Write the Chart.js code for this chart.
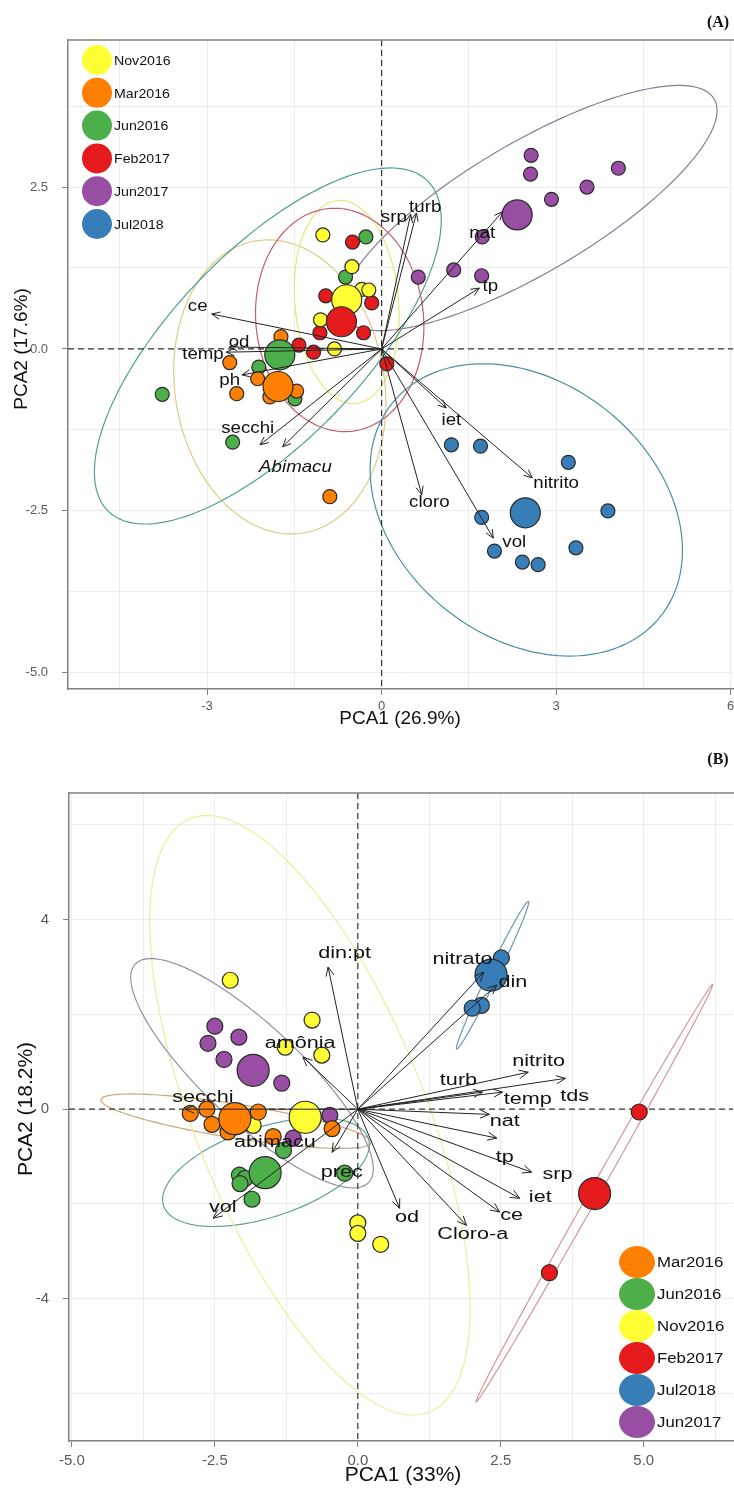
<!DOCTYPE html>
<html>

<head>
    <meta charset="utf-8" />
    <style>
        body { margin: 0; background: #fff; }
        canvas { position: absolute; left: 0; }
    </style>
</head>

<body>
    <canvas id="pcaA" width="734" height="740" style="top:0px"></canvas>
    <canvas id="pcaB" width="734" height="748" style="top:740px"></canvas>

    <script src="https://cdn.jsdelivr.net/npm/chart.js@4.4.1/dist/chart.umd.min.js"></script>

    <script>
        // ---------- panel A data ----------
        const groupsA = ['Nov2016', 'Mar2016', 'Jun2016', 'Feb2017', 'Jun2017', 'Jul2018'];
        const aNov = [[-1.01, 1.76], [-0.51, 1.27], [-0.34, 0.92], [-0.22, 0.91], [-1.05, 0.45], [-0.81, 0.0]];
        const aMar = [[-1.73, 0.19], [-2.61, -0.21], [-2.13, -0.46], [-2.49, -0.69], [-1.92, -0.74], [-1.46, -0.65], [-0.89, -2.28]];
        const aJun16 = [[-0.27, 1.73], [-0.62, 1.11], [-2.11, -0.28], [-1.49, -0.77], [-3.77, -0.7], [-2.56, -1.44]];
        const aFeb = [[-0.5, 1.65], [-0.96, 0.82], [-0.17, 0.71], [-1.06, 0.25], [-0.31, 0.25], [-1.42, 0.06], [-1.17, -0.05], [0.09, -0.23]];
        const aJun17 = [[2.57, 2.99], [2.56, 2.7], [2.92, 2.31], [3.53, 2.5], [4.07, 2.79], [1.73, 1.73], [1.24, 1.22], [0.63, 1.11], [1.72, 1.13]];
        const aJul = [[1.2, -1.48], [1.7, -1.5], [3.21, -1.75], [3.89, -2.5], [1.72, -2.6], [1.94, -3.12], [3.34, -3.07], [2.42, -3.29], [2.69, -3.33]];
        const aCentX = [-0.6, -1.78, -1.75, -0.69, 2.33, 2.47];
        const aCentY = [0.76, -0.58, -0.09, 0.42, 2.07, -2.53];
        // ellipses: centre x, centre y, then two conjugate semi-diameters (ux, uy, vx, vy)
        const aEllipses = [
            [-0.6, 0.725, -0.153, 1.568, 0.888, 0.070],
            [-1.75, -0.586, 0.397, -2.256, -1.779, -0.253],
            [-1.955, 0.046, 2.741, 2.553, 1.172, -1.019],
            [-0.72, 0.448, 0.201, -1.719, -1.433, -0.135],
            [2.539, 2.176, 3.177, 1.684, 0.566, -0.864],
            [2.487, -2.485, 2.32, -1.63, -1.35, -1.56]
        ];
        const aArrowNames = ['ce', 'od', 'temp', 'ph', 'secchi', 'Abimacu', 'srp', 'turb', 'nat', 'tp', 'iet', 'nitrito', 'cloro', 'vol'];
        const aArrowX = [-2.92, -2.62, -2.67, -2.4, -2.09, -1.7, 0.5, 0.6, 2.08, 1.68, 1.11, 2.59, 0.69, 1.92];
        const aArrowY = [0.54, 0.03, -0.05, -0.4, -1.48, -1.51, 2.08, 2.1, 2.12, 0.94, -0.91, -1.99, -2.25, -2.92];
        const aLabelX = [-3.16, -2.45, -3.07, -2.61, -2.30, -1.48, 0.21, 0.75, 1.73, 1.87, 1.20, 3.0, 0.82, 2.28];
        const aLabelY = [0.66, 0.11, -0.09, -0.48, -1.22, -1.82, 2.04, 2.19, 1.79, 0.96, -1.10, -2.08, -2.36, -2.99];
        const aGridX = [-4.5, -3, -1.5, 0, 1.5, 3, 4.5, 6];
        const aGridY = [-5, -3.75, -2.5, -1.25, 0, 1.25, 2.5, 3.75];
        const aTickX = [-3, 0, 3, 6];
        const aTickXLabels = ['-3', '0', '3', '6'];
        const aTickY = [-5, -2.5, 0, 2.5];
        const aTickYLabels = ['-5.0', '-2.5', '0.0', '2.5'];

        // ---------- panel B data ----------
        const groupsB = ['Mar2016', 'Jun2016', 'Nov2016', 'Feb2017', 'Jul2018', 'Jun2017'];
        const bMar = [[-2.93, -0.09], [-2.64, 0.0], [-1.74, -0.06], [-2.55, -0.32], [-2.27, -0.48], [-0.45, -0.41], [-1.48, -0.58]];
        const bJun16 = [[-2.07, -1.39], [-1.97, -1.46], [-2.06, -1.57], [-1.85, -1.9], [-1.3, -0.87], [-0.23, -1.35]];
        const bNov = [[-2.23, 2.72], [-0.8, 1.88], [-0.63, 1.14], [-1.27, 1.31], [0, -2.4], [0, -2.62], [0.4, -2.85], [-1.83, -0.34]];
        const bFeb = [[4.92, -0.06], [3.35, -3.45]];
        const bJul = [[2.51, 3.19], [2.16, 2.19], [2.0, 2.13]];
        const bJun17 = [[-2.5, 1.75], [-2.08, 1.52], [-2.62, 1.39], [-2.34, 1.05], [-1.33, 0.55], [-0.49, -0.13], [-1.13, -0.61]];
        const bCentX = [-2.15, -1.62, -0.92, 4.14, 2.33, -1.83];
        const bCentY = [-0.2, -1.34, -0.17, -1.78, 2.83, 0.82];
        const bEllipses = [
            [-2.129, -0.253, 2.361, -0.452, -0.046, -0.354],
            [-1.606, -1.329, 1.792, 0.705, 0.243, -0.903],
            [-0.838, -0.127, 2.092, -6.259, -1.861, -0.909],
            [4.136, -1.772, 2.068, 4.403, 0.076, -0.052],
            [2.356, 2.827, 0.627, 1.555, 0.078, -0.046],
            [-1.85, 0.759, 2.042, -2.302, -0.571, -0.741]
        ];
        const bArrowNames = ['din:pt', 'amônia', 'nitrato', 'din', 'nitrito', 'tds', 'turb', 'temp', 'nat', 'tp', 'srp', 'iet', 'ce', 'Cloro-a', 'od', 'prec', 'vol', 'secchi'];
        const bArrowX = [-0.52, -0.96, 2.2, 2.43, 2.98, 3.63, 2.18, 2.53, 2.30, 2.43, 3.04, 2.83, 2.48, 1.90, 0.73, -0.45, -2.53, -3.02];
        const bArrowY = [3.0, 1.10, 2.89, 2.62, 0.78, 0.65, 0.36, 0.36, -0.11, -0.61, -1.33, -1.88, -2.17, -2.45, -2.09, -0.91, -2.30, 0.0];
        const bLabelNames = ['din:pt', 'amônia', 'nitrato', 'din', 'nitrito', 'tds', 'turb', 'temp', 'nat', 'tp', 'srp', 'iet', 'ce', 'Cloro-a', 'od', 'prec', 'vol', 'secchi', 'abimacu'];
        const bLabelX = [-0.23, -1.01, 1.83, 2.71, 3.16, 3.79, 1.76, 2.97, 2.57, 2.57, 3.49, 3.19, 2.69, 2.01, 0.86, -0.28, -2.36, -2.71, -1.45];
        const bLabelY = [3.29, 1.39, 3.16, 2.66, 1.01, 0.27, 0.61, 0.21, -0.27, -1.03, -1.39, -1.86, -2.24, -2.64, -2.28, -1.33, -2.07, 0.25, -0.70];
        const bGridX = [-5, -3.75, -2.5, -1.25, 0, 1.25, 2.5, 3.75, 5, 6.25];
        const bGridY = [-6, -4, -2, 0, 2, 4, 6];
        const bTickX = [-5, -2.5, 0, 2.5, 5];
        const bTickXLabels = ['-5.0', '-2.5', '0.0', '2.5', '5.0'];
        const bTickY = [-4, 0, 4];
        const bTickYLabels = ['-4', '0', '4'];

        // ---------- styles ----------
        const fillColor = {
            Nov2016: '#ffff33', Mar2016: '#ff7f00', Jun2016: '#4daf4a',
            Feb2017: '#e41a1c', Jun2017: '#984ea3', Jul2018: '#377eb8'
        };
        const ringA = {
            Nov2016: '#ece47a', Mar2016: '#dccb80', Jun2016: '#4f9f94',
            Feb2017: '#c0606e', Jun2017: '#8a7d98', Jul2018: '#4b8ea8'
        };
        const ringB = {
            Nov2016: '#efec9a', Mar2016: '#c9a874', Jun2016: '#5ea494',
            Feb2017: '#d49898', Jun2017: '#9a8aa6', Jul2018: '#6a98b0'
        };
        const FONT = '"Liberation Sans", Arial, sans-serif';

        function drawStretched(ctx, txt, x, y, font, sx, align) {
            ctx.save();
            ctx.translate(x, y);
            ctx.scale(sx, 1);
            ctx.font = font;
            ctx.textAlign = align || 'center';
            ctx.textBaseline = 'middle';
            ctx.fillText(txt, 0, 0);
            ctx.restore();
        }

        function drawArrow(ctx, x0, y0, x1, y1, head) {
            const a = Math.atan2(y1 - y0, x1 - x0);
            ctx.beginPath();
            ctx.moveTo(x0, y0);
            ctx.lineTo(x1, y1);
            ctx.moveTo(x1 - head * Math.cos(a - 0.42), y1 - head * Math.sin(a - 0.42));
            ctx.lineTo(x1, y1);
            ctx.lineTo(x1 - head * Math.cos(a + 0.42), y1 - head * Math.sin(a + 0.42));
            ctx.stroke();
        }

        function sameValue(list, v) {
            return list.findIndex(t => Math.abs(t - v) < 1e-9);
        }

        function makeBiplot(p) {
            return {
                id: 'biplot',
                beforeDatasetsDraw(chart) {
                    const { ctx, chartArea: ca, scales: { x, y } } = chart;
                    ctx.save();
                    ctx.beginPath();
                    ctx.rect(ca.left, ca.top, ca.right - ca.left, ca.bottom - ca.top);
                    ctx.clip();
                    ctx.lineWidth = 1.2;
                    p.ellipses.forEach((e, i) => {
                        ctx.strokeStyle = p.ring[p.groups[i]];
                        ctx.beginPath();
                        for (let k = 0; k <= 180; k++) {
                            const t = k / 180 * Math.PI * 2;
                            const px = x.getPixelForValue(e[0] + e[2] * Math.cos(t) + e[4] * Math.sin(t));
                            const py = y.getPixelForValue(e[1] + e[3] * Math.cos(t) + e[5] * Math.sin(t));
                            if (k === 0) ctx.moveTo(px, py); else ctx.lineTo(px, py);
                        }
                        ctx.closePath();
                        ctx.stroke();
                    });
                    ctx.setLineDash([6, 4]);
                    ctx.strokeStyle = '#333';
                    ctx.lineWidth = 1.2;
                    const x0 = x.getPixelForValue(0), y0 = y.getPixelForValue(0);
                    ctx.beginPath();
                    ctx.moveTo(x0, ca.top); ctx.lineTo(x0, ca.bottom);
                    ctx.moveTo(ca.left, y0); ctx.lineTo(ca.right, y0);
                    ctx.stroke();
                    ctx.restore();

                    // top frame line
                    ctx.save();
                    ctx.strokeStyle = '#808080';
                    ctx.lineWidth = 1.5;
                    ctx.beginPath();
                    ctx.moveTo(ca.left, ca.top);
                    ctx.lineTo(chart.width, ca.top);
                    ctx.stroke();
                    ctx.restore();
                },
                afterDatasetsDraw(chart) {
                    const { ctx, chartArea: ca, scales: { x, y } } = chart;
                    const x0 = x.getPixelForValue(0), y0 = y.getPixelForValue(0);
                    ctx.save();
                    ctx.strokeStyle = '#222';
                    ctx.lineWidth = 1;
                    p.arrowX.forEach((ax, i) => {
                        drawArrow(ctx, x0, y0, x.getPixelForValue(ax), y.getPixelForValue(p.arrowY[i]), p.head);
                    });
                    ctx.fillStyle = '#111';
                    p.labelNames.forEach((n, i) => {
                        const font = (n === 'Abimacu' ? 'italic ' : '') + p.labelSize + 'px ' + FONT;
                        drawStretched(ctx, n, x.getPixelForValue(p.labelX[i]), y.getPixelForValue(p.labelY[i]), font, p.labelStretch);
                    });

                    // legend
                    p.groups.forEach((g, i) => {
                        const cy = p.legendY + i * p.legendGap;
                        ctx.fillStyle = fillColor[g];
                        ctx.beginPath();
                        ctx.ellipse(p.legendX, cy, p.legendRx, p.legendRy, 0, 0, Math.PI * 2);
                        ctx.fill();
                        ctx.fillStyle = '#111';
                        drawStretched(ctx, g, p.legendX + p.legendRx + 2, cy + 1, p.legendSize + 'px ' + FONT, p.legendStretch, 'left');
                    });

                    // axis titles and panel tag
                    ctx.fillStyle = '#111';
                    ctx.font = p.titleSize + 'px ' + FONT;
                    ctx.textAlign = 'center';
                    ctx.textBaseline = 'middle';
                    ctx.fillText(p.xTitle, p.xTitlePos[0], p.xTitlePos[1]);
                    ctx.save();
                    ctx.translate(p.yTitlePos[0], p.yTitlePos[1]);
                    ctx.rotate(-Math.PI / 2);
                    ctx.fillText(p.yTitle, 0, 0);
                    ctx.restore();
                    ctx.font = 'bold 16px "Liberation Serif", "Times New Roman", serif';
                    ctx.fillText(p.tag, p.tagPos[0], p.tagPos[1]);
                    ctx.restore();
                }
            };
        }

        function makeChart(id, p) {
            const datasets = p.points.map((pts, i) => ({
                label: p.groups[i],
                data: pts.map(([px, py]) => ({ x: px, y: py })),
                backgroundColor: fillColor[p.groups[i]],
                borderColor: '#2a2a2a',
                borderWidth: 1.2,
                pointRadius: p.rSmall,
                order: 1
            }));
            datasets.push({
                label: 'centroids',
                data: p.centX.map((cx, i) => ({ x: cx, y: p.centY[i] })),
                backgroundColor: p.groups.map(g => fillColor[g]),
                borderColor: '#2a2a2a',
                borderWidth: 1.2,
                pointRadius: p.rBig,
                order: 0
            });

            const axis = (min, max, grid, tickVals, tickLabels, isX) => ({
                type: 'linear',
                min: min,
                max: max,
                afterBuildTicks: s => { s.ticks = grid.map(v => ({ value: v })); },
                afterFit: s => {
                    if (isX) s.height = p.xAxisH; else s.width = p.yAxisW;
                    s.paddingLeft = 0; s.paddingRight = 0;
                    s.paddingTop = 0; s.paddingBottom = 0;
                },
                ticks: {
                    autoSkip: false,
                    maxRotation: 0,
                    color: '#5a5a5a',
                    font: { size: p.tickSize, family: FONT },
                    padding: isX ? p.xTickPad : p.yTickPad,
                    callback: v => {
                        const k = sameValue(tickVals, v);
                        return k < 0 ? '' : tickLabels[k];
                    }
                },
                grid: {
                    color: '#ececec',
                    lineWidth: 1,
                    tickLength: 6,
                    tickColor: c => sameValue(tickVals, c.tick.value) < 0 ? 'rgba(0,0,0,0)' : '#808080'
                },
                border: { display: true, color: '#808080', width: 1.5 }
            });

            return new Chart(document.getElementById(id), {
                type: 'scatter',
                data: { datasets: datasets },
                options: {
                    responsive: false,
                    animation: false,
                    devicePixelRatio: 1,
                    events: [],
                    layout: { autoPadding: false, padding: { top: p.top, right: 1, left: 0, bottom: 0 } },
                    plugins: { legend: { display: false }, tooltip: { enabled: false } },
                    scales: {
                        x: axis(p.xMin, p.xMax, p.gridX, p.tickX, p.tickXLabels, true),
                        y: axis(p.yMin, p.yMax, p.gridY, p.tickY, p.tickYLabels, false)
                    }
                },
                plugins: [makeBiplot(p)]
            });
        }

        makeChart('pcaA', {
            groups: groupsA,
            points: [aNov, aMar, aJun16, aFeb, aJun17, aJul],
            centX: aCentX, centY: aCentY,
            ellipses: aEllipses, ring: ringA,
            arrowX: aArrowX, arrowY: aArrowY,
            labelNames: aArrowNames, labelX: aLabelX, labelY: aLabelY,
            gridX: aGridX, gridY: aGridY,
            tickX: aTickX, tickXLabels: aTickXLabels, tickY: aTickY, tickYLabels: aTickYLabels,
            xMin: -5.39, xMax: 6.04, yMin: -5.25, yMax: 4.77,
            top: 40, xAxisH: 51, yAxisW: 68, xTickPad: 4, yTickPad: 14, tickSize: 13,
            rSmall: 7, rBig: 15, head: 9,
            labelSize: 17, labelStretch: 1.1,
            legendX: 97, legendY: 60, legendGap: 32.8, legendRx: 15, legendRy: 15, legendSize: 13.5, legendStretch: 1.05,
            titleSize: 19, xTitle: 'PCA1 (26.9%)', xTitlePos: [400, 719], yTitle: 'PCA2 (17.6%)', yTitlePos: [22, 349],
            tag: '(A)', tagPos: [718, 23]
        });

        makeChart('pcaB', {
            groups: groupsB,
            points: [bMar, bJun16, bNov, bFeb, bJul, bJun17],
            centX: bCentX, centY: bCentY,
            ellipses: bEllipses, ring: ringB,
            arrowX: bArrowX, arrowY: bArrowY,
            labelNames: bLabelNames, labelX: bLabelX, labelY: bLabelY,
            gridX: bGridX, gridY: bGridY,
            tickX: bTickX, tickXLabels: bTickXLabels, tickY: bTickY, tickYLabels: bTickYLabels,
            xMin: -5.05, xMax: 6.56, yMin: -7.0, yMax: 6.67,
            top: 53, xAxisH: 47, yAxisW: 69, xTickPad: 5, yTickPad: 14, tickSize: 15,
            rSmall: 8, rBig: 16, head: 10,
            labelSize: 16, labelStretch: 1.35,
            legendX: 637, legendY: 522, legendGap: 32, legendRx: 18, legendRy: 16, legendSize: 14, legendStretch: 1.2,
            titleSize: 21, xTitle: 'PCA1 (33%)', xTitlePos: [403, 735], yTitle: 'PCA2 (18.2%)', yTitlePos: [26, 369],
            tag: '(B)', tagPos: [718, 20]
        });
    </script>
</body>

</html>
